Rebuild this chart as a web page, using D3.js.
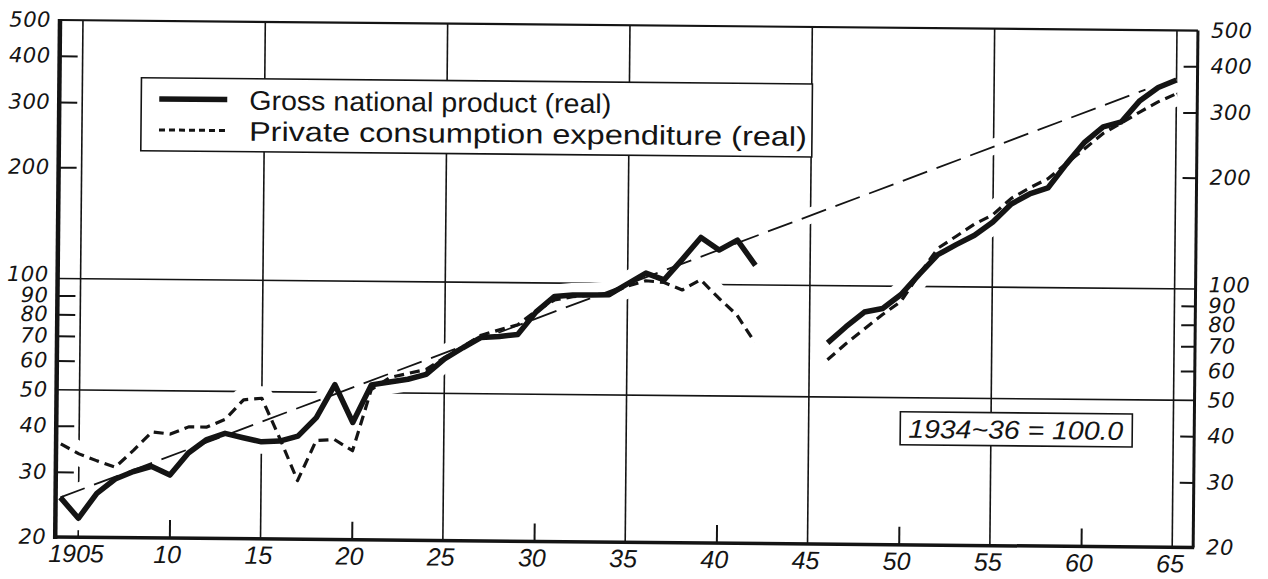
<!DOCTYPE html>
<html>
<head>
<meta charset="utf-8">
<script src="https://cdn.jsdelivr.net/npm/d3@7"></script>
<style>
  body { margin: 0; background: #fff; }
  svg { display: block; }
</style>
</head>
<body>
<svg id="chart" width="1268" height="579"></svg>
<script>
// values (index, 1934-36 = 100)
const prewarYears = d3.range(1904, 1943);
const prewarGnp = [25.6, 22.5, 26.3, 28.8, 30.2, 31.2, 29.6, 34, 37, 38.5,
                   37.5, 36.6, 36.8, 38, 42.7, 52.5, 41.5, 52.5, 53.5, 54.5,
                   56.2, 62, 66.5, 71, 71.5, 72.5, 83.5, 92, 93, 93,
                   93.3, 100, 107, 102.7, 117, 134, 124, 132, 113];
const prewarCons = [35.7, 33.6, 32.2, 31, 34.5, 38.7, 38.2, 40, 40, 42,
                    47.5, 48, 37.5, 28.8, 37, 37.3, 34.8, 51, 55, 56.5,
                    58, 62.5, 67, 72, 74.5, 77, 84, 90, 92, 93,
                    94, 98.5, 102, 101, 96.5, 103, 92, 83, 70];
const postwarYears = d3.range(1946, 1966);
const postwarGnp = [70, 77.5, 85, 87, 95, 108, 122, 130, 138, 150,
                    168, 179, 186, 216, 248, 273, 282, 322, 350, 367];
const postwarCons = [63, 69.7, 76.4, 83.8, 91, 108, 127, 137, 148, 157,
                     174, 186, 197, 217, 238, 262, 280, 300, 320, 337];
const trendYears = [1904, 1963.3];
const trendValues = [25.6, 345];

const yLabelValues = [20, 30, 40, 50, 60, 70, 80, 90, 100, 200, 300, 400, 500];
const yTickValues = [30, 40, 60, 70, 80, 90, 200, 300, 400];
const yGridValues = [50, 100];
const gridYears = [1905, 1915, 1925, 1935, 1945, 1955, 1965];
const tickYears = [1910, 1920, 1930, 1940, 1950, 1960];
const xLabelYears = [1905, 1910, 1915, 1920, 1925, 1930, 1935, 1940, 1945, 1950, 1955, 1960, 1965];
const xLabelTexts = ["1905", "10", "15", "20", "25", "30", "35", "40", "45", "50", "55", "60", "65"];
const legendLabels = ["Gross national product (real)", "Private consumption expenditure (real)"];
const baseNote = "1934~36 = 100.0";

const INK = "#141414";
const L = 60, R = 1198, T = 20, B = 537;

const svg = d3.select("#chart");
// the scan sits a little crooked, so the whole drawing is turned slightly
const root = svg.append("g").attr("transform", `rotate(0.53, ${L}, ${T})`);

const x = d3.scaleLinear().domain([1903.74, 1966.15]).range([L, R]);
const y = d3.scaleLog().domain([20, 500]).range([B, T]);

const toPts = (years, vals) => years.map((yr, i) => ({year: yr, value: vals[i]}));
const series = [
  {key: "gnp", pts: toPts(prewarYears, prewarGnp)},
  {key: "gnp", pts: toPts(postwarYears, postwarGnp)},
  {key: "cons", pts: toPts(prewarYears, prewarCons)},
  {key: "cons", pts: toPts(postwarYears, postwarCons)},
  {key: "trend", pts: toPts(trendYears, trendValues)}
];
const line = d3.line().x(d => x(d.year)).y(d => y(d.value));

// grid
const grid = root.append("g").attr("stroke", INK).attr("stroke-width", 1.6);
grid.selectAll("line.gx").data(gridYears).enter().append("line")
  .attr("x1", d => x(d)).attr("x2", d => x(d)).attr("y1", T).attr("y2", B);
grid.selectAll("line.gy").data(yGridValues).enter().append("line")
  .attr("x1", L).attr("x2", R).attr("y1", d => y(d)).attr("y2", d => y(d));

// white halo, the draughtsman broke the grid where the curves pass
root.append("g").selectAll("path").data(series).enter().append("path")
  .attr("d", d => line(d.pts))
  .attr("fill", "none").attr("stroke", "#fff")
  .attr("stroke-width", d => d.key == "trend" ? 16 : 24)
  .attr("stroke-linejoin", "round");

// ticks via d3 axes
const leftTicks = root.append("g").attr("transform", `translate(${L},0)`)
  .call(d3.axisRight(y).tickValues(yTickValues).tickSize(18).tickFormat(""));
const rightTicks = root.append("g").attr("transform", `translate(${R},0)`)
  .call(d3.axisLeft(y).tickValues(yTickValues).tickSize(14).tickFormat(""));
const bottomTicks = root.append("g").attr("transform", `translate(0,${B})`)
  .call(d3.axisTop(x).tickValues(tickYears).tickSize(18).tickFormat(""));
[leftTicks, rightTicks, bottomTicks].forEach(a => {
  a.select(".domain").remove();
  a.selectAll("line").attr("stroke", INK).attr("stroke-width", 2);
});

// frame
const frame = root.append("g").attr("stroke", INK).attr("fill", "none");
frame.append("line").attr("x1", L).attr("x2", R).attr("y1", T).attr("y2", T).attr("stroke-width", 2.2);
frame.append("line").attr("x1", R).attr("x2", R).attr("y1", T).attr("y2", B).attr("stroke-width", 3);
frame.append("line").attr("x1", L - 2).attr("x2", R + 1).attr("y1", B).attr("y2", B).attr("stroke-width", 3.5);
frame.append("line").attr("x1", L).attr("x2", L).attr("y1", T - 1).attr("y2", B + 2).attr("stroke-width", 4.5);

// legend
const lg = root.append("g");
lg.append("rect").attr("x", 142).attr("y", 77).attr("width", 671).attr("height", 73)
  .attr("fill", "#fff").attr("stroke", INK).attr("stroke-width", 1.6);
lg.append("line").attr("x1", 160).attr("x2", 228).attr("y1", 98).attr("y2", 98)
  .attr("stroke", INK).attr("stroke-width", 5.5);
lg.append("line").attr("x1", 160).attr("x2", 228).attr("y1", 129).attr("y2", 129)
  .attr("stroke", INK).attr("stroke-width", 3).attr("stroke-dasharray", "6,4");
lg.selectAll("text").data(legendLabels).enter().append("text")
  .attr("x", 250).attr("y", (d, i) => 108 + i * 31)
  .attr("textLength", (d, i) => i == 0 ? 362 : 558)
  .attr("lengthAdjust", "spacingAndGlyphs")
  .attr("font-family", "'Liberation Sans', Arial, sans-serif")
  .attr("font-size", 27).attr("fill", INK)
  .text(d => d);

// base-year note
const note = root.append("g");
note.append("rect").attr("x", 904).attr("y", 404).attr("width", 232).attr("height", 33)
  .attr("fill", "#fff").attr("stroke", INK).attr("stroke-width", 1.6);
note.append("text").attr("x", 912).attr("y", 430)
  .attr("textLength", 215).attr("lengthAdjust", "spacingAndGlyphs")
  .attr("font-family", "'Liberation Sans', Arial, sans-serif")
  .attr("font-style", "italic").attr("font-size", 26).attr("fill", INK)
  .text(baseNote);

// curves
const curves = root.append("g").attr("fill", "none").attr("stroke", INK)
  .attr("stroke-linejoin", "round");
curves.selectAll("path").data(series).enter().append("path")
  .attr("d", d => line(d.pts))
  .attr("stroke-width", d => d.key == "gnp" ? 5.5 : d.key == "cons" ? 3.2 : 1.8)
  .attr("stroke-dasharray", d => d.key == "gnp" ? null : d.key == "cons" ? "10,6" : "26,10");

// tick labels, "100" sits a little high over the crowded 90
const labelFont = "'DejaVu Sans', Verdana, sans-serif";
const yLabelY = d => y(d) + (d == 100 ? 3 : 7);
const addYLabels = (xPos, anchor) => root.append("g").selectAll("text")
  .data(yLabelValues).enter().append("text")
  .attr("x", xPos).attr("y", yLabelY)
  .attr("text-anchor", anchor)
  .attr("font-family", labelFont).attr("font-weight", 200)
  .attr("font-style", "italic").attr("font-size", 21)
  .attr("letter-spacing", 0.5).attr("fill", INK)
  .text(d => d);
addYLabels(51, "end");
addYLabels(1211, "start");

root.append("g").selectAll("text").data(xLabelYears).enter().append("text")
  .attr("x", d => x(d) - 2).attr("y", 562)
  .attr("text-anchor", "middle")
  .attr("font-family", "'Liberation Sans', Arial, sans-serif")
  .attr("font-style", "italic").attr("font-size", 25).attr("fill", INK)
  .text((d, i) => xLabelTexts[i]);
</script>
</body>
</html>
